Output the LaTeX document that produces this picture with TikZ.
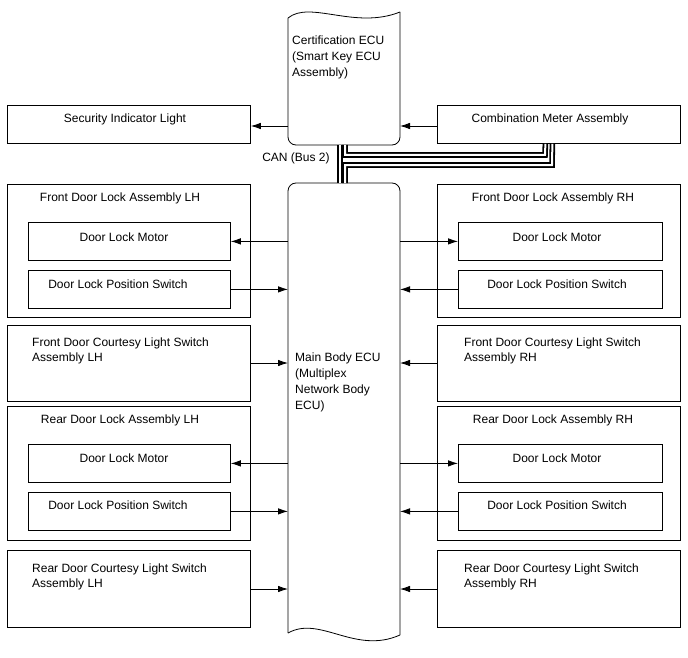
\documentclass[tikz,border=0pt]{standalone}
\usepackage{fontspec}
\setmainfont{Liberation Sans}
\usetikzlibrary{arrows.meta}

\tikzset{
  box/.style={draw, line width=0.8pt, rectangle, anchor=north west, inner sep=0pt},
  txt/.style={inner sep=0pt, align=left},
  ecutxt/.style={txt, anchor=north west, font=\fontsize{12}{16}\selectfont},
  arr/.style={line width=0.8pt, -{Latex[length=10pt,width=6.5pt]}},
  bus/.style={line width=1.8pt, double=white, double distance=2pt}
}

\begin{document}
\begin{tikzpicture}[x=1pt,y=-1pt,font=\fontsize{12}{14.5}\selectfont]
  \useasboundingbox (0,0) rectangle (688,658);

  % Certification ECU (wavy top)
  \draw[line width=0.8pt, rounded corners=8pt] (288,18) -- (288,145) -- (400,145) -- (400,12);
  \draw[line width=0.8pt] (288,18) .. controls (310,0) and (355,30) .. (400,12);
  \node[ecutxt] (certtxt) at (292,36)
    {Certification ECU\\(Smart Key ECU\\Assembly)};
  \coordinate (certL) at (288,126);
  \coordinate (certR) at (400,126);

  % Main Body ECU (wavy bottom)
  \draw[line width=0.8pt, rounded corners=8pt] (288,633) -- (288,183) -- (400,183) -- (400,635);
  \draw[line width=0.8pt] (288,633) .. controls (320,615) and (355,655) .. (400,635);
  \node[ecutxt] (maintxt) at (295,353)
    {Main Body ECU\\(Multiplex\\Network Body\\ECU)};
  \coordinate (mainL) at (288,0);
  \coordinate (mainR) at (400,0);

  % Top row
  \node[box, minimum width=243pt, minimum height=38pt] (seclight) at (7,105) {};
  \node[txt] (sectxt) at (125,119) {Security Indicator Light};
  \node[box, minimum width=243pt, minimum height=38pt] (meter) at (437,105) {};
  \node[txt] (metertxt) at (550,119) {Combination Meter Assembly};
  \draw[arr] (certL) -- (seclight.east |- certL);
  \draw[arr] (meter.west |- certR) -- (certR);

  % CAN bus
  \node[txt] (cantxt) at (296,158) {CAN (Bus 2)};
  \coordinate (certB) at (340,145);
  \coordinate (mainT) at (340,183);
  \draw[bus] (certB) -- (mainT);
  \draw[bus] ([xshift=5pt]certB) -- (345,155) -- (545,155) -- ([xshift=-13.5pt]meter.south);
  \draw[bus] ([xshift=5pt]mainT) -- (345,165) -- (552,165) -- ([xshift=-6.5pt]meter.south);

  % Left side
  \node[box, minimum width=243pt, minimum height=133pt] (flockL) at (7,184) {};
  \node[txt] (flockLtxt) at (120,198) {Front Door Lock Assembly LH};
  \node[box, minimum width=202pt, minimum height=38pt] (fmotorL) at (28,222) {};
  \node[txt] (fmotorLtxt) at (124,237) {Door Lock Motor};
  \node[box, minimum width=202pt, minimum height=38pt] (fswL) at (28,270) {};
  \node[txt] (fswLtxt) at (118,284) {Door Lock Position Switch};

  \node[box, minimum width=243pt, minimum height=76pt] (fcourtL) at (7,325) {};
  \node[txt, anchor=north west] (fcourtLtxt) at (32,338)
    {Front Door Courtesy Light Switch\\Assembly LH};

  \node[box, minimum width=243pt, minimum height=134pt] (rlockL) at (7,406) {};
  \node[txt] (rlockLtxt) at (120,420) {Rear Door Lock Assembly LH};
  \node[box, minimum width=202pt, minimum height=38pt] (rmotorL) at (28,444) {};
  \node[txt] (rmotorLtxt) at (124,458) {Door Lock Motor};
  \node[box, minimum width=202pt, minimum height=38pt] (rswL) at (28,492) {};
  \node[txt] (rswLtxt) at (118,505) {Door Lock Position Switch};

  \node[box, minimum width=243pt, minimum height=77pt] (rcourtL) at (7,550) {};
  \node[txt, anchor=north west] (rcourtLtxt) at (32,564)
    {Rear Door Courtesy Light Switch\\Assembly LH};

  % Right side
  \node[box, minimum width=243pt, minimum height=133pt] (flockR) at (437,184) {};
  \node[txt] (flockRtxt) at (553,198) {Front Door Lock Assembly RH};
  \node[box, minimum width=204pt, minimum height=38pt] (fmotorR) at (458,222) {};
  \node[txt] (fmotorRtxt) at (557,237) {Door Lock Motor};
  \node[box, minimum width=204pt, minimum height=38pt] (fswR) at (458,270) {};
  \node[txt] (fswRtxt) at (557,284) {Door Lock Position Switch};

  \node[box, minimum width=243pt, minimum height=76pt] (fcourtR) at (437,325) {};
  \node[txt, anchor=north west] (fcourtRtxt) at (464,338)
    {Front Door Courtesy Light Switch\\Assembly RH};

  \node[box, minimum width=243pt, minimum height=134pt] (rlockR) at (437,406) {};
  \node[txt] (rlockRtxt) at (553,420) {Rear Door Lock Assembly RH};
  \node[box, minimum width=204pt, minimum height=38pt] (rmotorR) at (458,444) {};
  \node[txt] (rmotorRtxt) at (557,458) {Door Lock Motor};
  \node[box, minimum width=204pt, minimum height=38pt] (rswR) at (458,492) {};
  \node[txt] (rswRtxt) at (557,505) {Door Lock Position Switch};

  \node[box, minimum width=243pt, minimum height=77pt] (rcourtR) at (437,550) {};
  \node[txt, anchor=north west] (rcourtRtxt) at (464,564)
    {Rear Door Courtesy Light Switch\\Assembly RH};

  % Signals to / from Main Body ECU
  \draw[arr] (mainL |- fmotorL.east) -- (fmotorL.east);
  \draw[arr] (fswL.east) -- (mainL |- fswL.east);
  \draw[arr] (fcourtL.east |- 0,363) -- (mainL |- 0,363);
  \draw[arr] (mainL |- rmotorL.east) -- (rmotorL.east);
  \draw[arr] (rswL.east) -- (mainL |- rswL.east);
  \draw[arr] (rcourtL.east |- 0,589) -- (mainL |- 0,589);

  \draw[arr] (mainR |- fmotorR.west) -- (fmotorR.west);
  \draw[arr] (fswR.west) -- (mainR |- fswR.west);
  \draw[arr] (fcourtR.west |- 0,363) -- (mainR |- 0,363);
  \draw[arr] (mainR |- rmotorR.west) -- (rmotorR.west);
  \draw[arr] (rswR.west) -- (mainR |- rswR.west);
  \draw[arr] (rcourtR.west |- 0,589) -- (mainR |- 0,589);
\end{tikzpicture}
\end{document}
